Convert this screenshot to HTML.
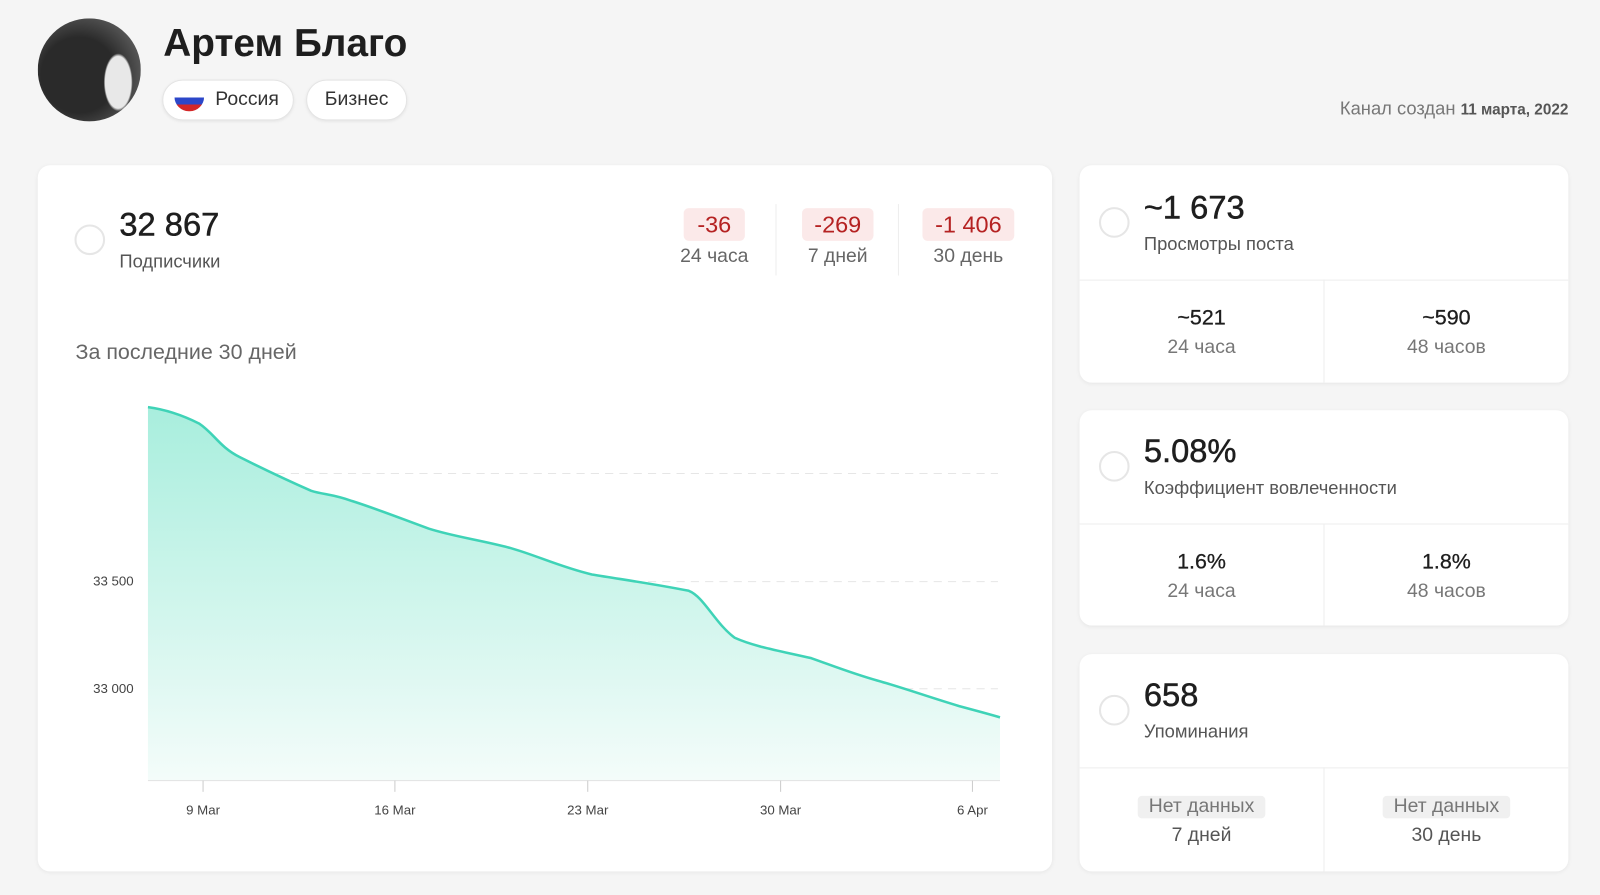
<!DOCTYPE html>
<html><head><meta charset="utf-8"><style>
*{box-sizing:border-box;margin:0;padding:0}
body{width:1600px;height:877px;background:#f5f5f5;font-family:"Liberation Sans",sans-serif;color:#1e1e1e;position:relative;overflow:hidden}
#wrap{position:absolute;left:0;top:0;width:1568px;height:860px;transform:scale(1.0204);transform-origin:0 0}
.abs{position:absolute}
.card{position:absolute;background:#fff;border-radius:12px;box-shadow:0 1px 4px rgba(0,0,0,.06)}
.pill{position:absolute;height:40px;border-radius:20px;background:#fff;border:1px solid #e4e4e4;box-shadow:0 1px 3px rgba(0,0,0,.08);font-size:19px;color:#333;line-height:38px}
.circ{position:absolute;width:30px;height:30px;border-radius:50%;border:2px solid #e6e6e6;background:#fff}
.badge{position:absolute;height:32px;border-radius:5px;background:#fbe9e9;color:#b52222;font-size:23px;line-height:32px;text-align:center}
.lbl{position:absolute;font-size:19px;color:#666;text-align:center}
.big{position:absolute;font-size:32px;color:#1e1e1e;-webkit-text-stroke:0.5px #1e1e1e}
.sub{position:absolute;font-size:18px;color:#555}
.cell{position:absolute;text-align:center}
.cell b{display:block;font-weight:normal;font-size:21px;color:#1e1e1e;-webkit-text-stroke:0.3px #1e1e1e}
.cell span{display:block;font-size:19px;color:#777;margin-top:6px}
</style></head><body><div id="wrap">
<div class="abs" style="left:37px;top:18px;width:101px;height:101px;border-radius:50%;background:radial-gradient(ellipse 14% 28% at 78% 62%,#e8e8e8 0 90%,transparent 100%),radial-gradient(circle at 40% 55%,#2a2a2a 0 45%,#555 75%,#8a8a8a 100%)"></div>
<div class="abs" style="left:160px;top:22px;font-size:38px;font-weight:bold;color:#1e1e1e">Артем Благо</div>
<div class="pill" style="left:159px;top:78px;width:129px"><span class="abs" style="left:11px;top:10px;width:29px;height:20px;border-radius:0 0 14px 14px;background:linear-gradient(#fff 0 33%,#2c47c9 33% 66%,#d42727 66%)"></span><span class="abs" style="left:51px;top:0">Россия</span></div>
<div class="pill" style="left:300px;top:78px;width:99px;text-align:center">Бизнес</div>
<div class="abs" style="right:31px;top:96px;font-size:18px;color:#777">Канал создан <span style="font-size:15px;color:#555;font-weight:bold">11 марта, 2022</span></div>

<div class="card" style="left:37px;top:162px;width:994px;height:692px">
<div class="circ" style="left:36px;top:58px"></div>
<div class="big" style="left:80px;top:40px">32 867</div>
<div class="sub" style="left:80px;top:84px">Подписчики</div>
<div class="badge" style="left:633px;top:42px;width:60px">-36</div>
<div class="lbl" style="left:620px;top:79px;width:86px">24 часа</div>
<div class="abs" style="left:723px;top:38px;width:1px;height:70px;background:#eee"></div>
<div class="badge" style="left:749px;top:42px;width:70px">-269</div>
<div class="lbl" style="left:740px;top:79px;width:88px">7 дней</div>
<div class="abs" style="left:843px;top:38px;width:1px;height:70px;background:#eee"></div>
<div class="badge" style="left:867px;top:42px;width:90px">-1 406</div>
<div class="lbl" style="left:862px;top:79px;width:100px">30 день</div>
<div class="abs" style="left:37px;top:172px;font-size:21px;color:#666">За последние 30 дней</div>
</div>

<svg class="abs" style="left:0;top:0" width="1040" height="877">
<defs><linearGradient id="g" x1="0" y1="0" x2="0" y2="1"><stop offset="0" stop-color="#a8eedd"/><stop offset="1" stop-color="#f4fcfa"/></linearGradient></defs>
<g stroke="#e6e6e6" stroke-dasharray="8 6" stroke-width="1"><line x1="145" y1="464" x2="978" y2="464"/><line x1="145" y1="570" x2="978" y2="570"/><line x1="145" y1="675" x2="978" y2="675"/></g>
<path d="M145,399 C160,401 175,405 195,415 C210,425 215,438 235,448 C255,458 280,470 305,481 C318,485 325,484 345,491 C370,499 390,507 420,518 C445,526 470,529 500,537 C525,544 550,556 580,563 C610,568 640,572 675,579 C690,585 700,610 720,625 C740,634 765,638 795,645 C815,652 835,660 860,667 C885,674 910,683 940,692 C955,696 970,700 980,703 L980,765 L145,765 Z" fill="url(#g)"/>
<path d="M145,399 C160,401 175,405 195,415 C210,425 215,438 235,448 C255,458 280,470 305,481 C318,485 325,484 345,491 C370,499 390,507 420,518 C445,526 470,529 500,537 C525,544 550,556 580,563 C610,568 640,572 675,579 C690,585 700,610 720,625 C740,634 765,638 795,645 C815,652 835,660 860,667 C885,674 910,683 940,692 C955,696 970,700 980,703" fill="none" stroke="#3fd3b7" stroke-width="2.5"/>
<line x1="145" y1="765" x2="980" y2="765" stroke="#e2e2e2"/>
<g stroke="#ccc"><line x1="199" y1="765" x2="199" y2="776"/><line x1="387" y1="765" x2="387" y2="776"/><line x1="576" y1="765" x2="576" y2="776"/><line x1="765" y1="765" x2="765" y2="776"/><line x1="953" y1="765" x2="953" y2="776"/></g>
<g font-family="Liberation Sans" font-size="13" fill="#444" text-anchor="middle"><text x="199" y="798">9 Mar</text><text x="387" y="798">16 Mar</text><text x="576" y="798">23 Mar</text><text x="765" y="798">30 Mar</text><text x="953" y="798">6 Apr</text></g>
<g font-family="Liberation Sans" font-size="13" fill="#444" text-anchor="end"><text x="131" y="574">33 500</text><text x="131" y="679">33 000</text></g>
</svg>

<div class="card" style="left:1058px;top:162px;width:479px;height:213px">
<div class="circ" style="left:19px;top:41px"></div>
<div class="big" style="left:63px;top:23px">~1 673</div>
<div class="sub" style="left:63px;top:67px">Просмотры поста</div>
<div class="abs" style="left:0;top:112px;width:479px;height:1px;background:#eee"></div>
<div class="abs" style="left:239px;top:112px;width:1px;height:101px;background:#eee"></div>
<div class="cell" style="left:0;top:138px;width:239px"><b>~521</b><span>24 часа</span></div>
<div class="cell" style="left:240px;top:138px;width:239px"><b>~590</b><span>48 часов</span></div>
</div>

<div class="card" style="left:1058px;top:402px;width:479px;height:211px">
<div class="circ" style="left:19px;top:40px"></div>
<div class="big" style="left:63px;top:22px">5.08%</div>
<div class="sub" style="left:63px;top:66px">Коэффициент вовлеченности</div>
<div class="abs" style="left:0;top:111px;width:479px;height:1px;background:#eee"></div>
<div class="abs" style="left:239px;top:111px;width:1px;height:100px;background:#eee"></div>
<div class="cell" style="left:0;top:137px;width:239px"><b>1.6%</b><span>24 часа</span></div>
<div class="cell" style="left:240px;top:137px;width:239px"><b>1.8%</b><span>48 часов</span></div>
</div>

<div class="card" style="left:1058px;top:641px;width:479px;height:213px">
<div class="circ" style="left:19px;top:40px"></div>
<div class="big" style="left:63px;top:22px">658</div>
<div class="sub" style="left:63px;top:66px">Упоминания</div>
<div class="abs" style="left:0;top:111px;width:479px;height:1px;background:#eee"></div>
<div class="abs" style="left:239px;top:111px;width:1px;height:102px;background:#eee"></div>
<div class="cell" style="left:0;top:139px;width:239px"><b style="display:inline-block;background:#f0f0f0;color:#777;font-size:19px;padding:0 11px;border-radius:4px;-webkit-text-stroke:0">Нет данных</b><span style="color:#555">7 дней</span></div>
<div class="cell" style="left:240px;top:139px;width:239px"><b style="display:inline-block;background:#f0f0f0;color:#777;font-size:19px;padding:0 11px;border-radius:4px;-webkit-text-stroke:0">Нет данных</b><span style="color:#555">30 день</span></div>
</div>
</div></body></html>
